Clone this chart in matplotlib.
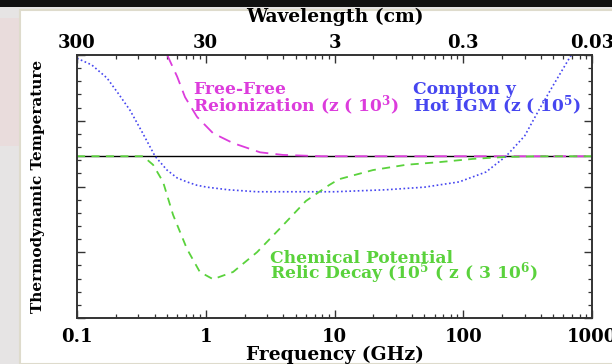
import matplotlib.pyplot as plt
from matplotlib.patches import Rectangle
from matplotlib.ticker import FixedLocator, NullLocator, NullFormatter, MultipleLocator, LogLocator

# curves (frequency in GHz, arbitrary temperature units)
baseline_freq = [0.1, 1000]
baseline_y = [2.46, 2.46]

compton_freq = [0.1, 0.13, 0.171, 0.21, 0.258, 0.32, 0.404, 0.5, 0.6, 0.714, 0.85, 1.02,
                1.5, 2.5, 4, 10, 25, 50, 93, 150, 215, 300, 386, 500, 666, 775]
compton_y = [3.95, 3.85, 3.65, 3.41, 3.16, 2.83, 2.46, 2.25, 2.13, 2.07, 2.02, 1.99,
             1.95, 1.92, 1.92, 1.92, 1.95, 1.99, 2.07, 2.22, 2.46, 2.77, 3.16, 3.54, 3.95, 4.15]

freefree_freq = [0.45, 0.51, 0.6, 0.69, 0.855, 1.14, 1.63, 2.64, 3.98, 8, 1000]
freefree_y = [4.3, 3.97, 3.67, 3.36, 3.06, 2.81, 2.66, 2.52, 2.48, 2.46, 2.46]

chem_freq = [0.1, 0.326, 0.39, 0.466, 0.557, 0.715, 0.9, 1.14, 1.63, 2.5, 3.98, 6.0,
             9.06, 10.8, 19.9, 35.9, 64.5, 119, 215, 386, 1000]
chem_y = [2.46, 2.46, 2.33, 2.07, 1.57, 1.05, 0.70, 0.59, 0.70, 1.00, 1.41, 1.78,
          2.02, 2.11, 2.25, 2.33, 2.37, 2.42, 2.45, 2.46, 2.46]

freq_ticks = [0.1, 1, 10, 100, 1000]
freq_labels = ["0.1", "1", "10", "100", "1000"]
wave_ticks = [300, 30, 3, 0.3, 0.03]
wave_labels = ["300", "30", "3", "0.3", "0.03"]

MAGENTA = "#dc3cdc"
BLUE = "#4646f0"
GREEN = "#5ad23c"
FONT = "DejaVu Serif"

plt.rcParams["mathtext.fontset"] = "dejavuserif"
plt.rcParams["mathtext.default"] = "bf"

fig = plt.figure(figsize=(6.12, 3.64), dpi=100)
fig.patch.set_facecolor("#e6e4e4")
fig.add_artist(Rectangle((0, 0.6), 0.035, 0.35, transform=fig.transFigure,
                         facecolor="#e9dcdc", edgecolor="none", zorder=0))
fig.add_artist(Rectangle((20 / 612, 0), 1, 354 / 364, transform=fig.transFigure,
                         facecolor="white", edgecolor="#dedbcc", linewidth=1.5, zorder=0))
fig.add_artist(Rectangle((0, 357 / 364), 1, 7 / 364, transform=fig.transFigure,
                         facecolor="#111111", edgecolor="none", zorder=0))

ax = fig.add_axes([77 / 612, 46 / 364, 515 / 612, 263 / 364])
ax.set_xscale("log")
ax.set_xlim(0.1, 1000)
ax.set_ylim(0, 4)

ax.plot(baseline_freq, baseline_y, color="black", lw=1.0)
ax.plot(freefree_freq, freefree_y, color=MAGENTA, lw=1.3, dashes=(7, 4))
ax.plot(compton_freq, compton_y, color=BLUE, lw=1.2, linestyle=(0, (1, 1.5)))
ax.plot(chem_freq, chem_y, color=GREEN, lw=1.3, dashes=(4.5, 3.5))

txt = dict(transform=ax.transAxes, family=FONT, weight="bold", fontsize=12.3, va="center")
ax.text(0.225, 0.867, "Free-Free", color=MAGENTA, **txt)
ax.text(0.225, 0.806, r"Reionization (z ( 10$^{3}$)", color=MAGENTA, **txt)
ax.text(0.652, 0.867, "Compton y", color=BLUE, **txt)
ax.text(0.652, 0.806, r"Hot IGM (z ( 10$^{5}$)", color=BLUE, **txt)
ax.text(0.375, 0.228, "Chemical Potential", color=GREEN, **txt)
ax.text(0.375, 0.171, r"Relic Decay (10$^{5}$ ( z ( 3 10$^{6}$)", color=GREEN, **txt)

ax.xaxis.set_major_locator(FixedLocator(freq_ticks))
ax.xaxis.set_minor_locator(LogLocator(base=10, subs=range(2, 10)))
ax.xaxis.set_minor_formatter(NullFormatter())
ax.set_xticklabels(freq_labels, family=FONT, weight="bold", fontsize=13)
ax.yaxis.set_major_locator(MultipleLocator(1))
ax.yaxis.set_minor_locator(MultipleLocator(0.2))
ax.set_yticklabels([])
ax.tick_params(which="both", direction="in", top=True, right=True, color="#333333")
ax.tick_params(which="major", length=6, width=1.0, pad=7)
ax.tick_params(which="minor", length=3, width=0.9)
for s in ax.spines.values():
    s.set_color("#333333")
    s.set_linewidth(1.4)

ax.set_xlabel("Frequency (GHz)", family=FONT, weight="bold", fontsize=13.5, labelpad=0)
ax.set_ylabel("Thermodynamic Temperature", family=FONT, weight="bold", fontsize=11, labelpad=16)

top = ax.secondary_xaxis("top", functions=(lambda f: 30 / f, lambda w: 30 / w))
top.xaxis.set_major_locator(FixedLocator(wave_ticks))
top.xaxis.set_minor_locator(NullLocator())
top.set_xticklabels(wave_labels, family=FONT, weight="bold", fontsize=13)
top.tick_params(length=0, pad=2)
top.set_xlabel("Wavelength (cm)", family=FONT, weight="bold", fontsize=13.5, labelpad=9)
top.spines["top"].set_visible(False)

fig.savefig("out.png", dpi=100, facecolor=fig.get_facecolor())
